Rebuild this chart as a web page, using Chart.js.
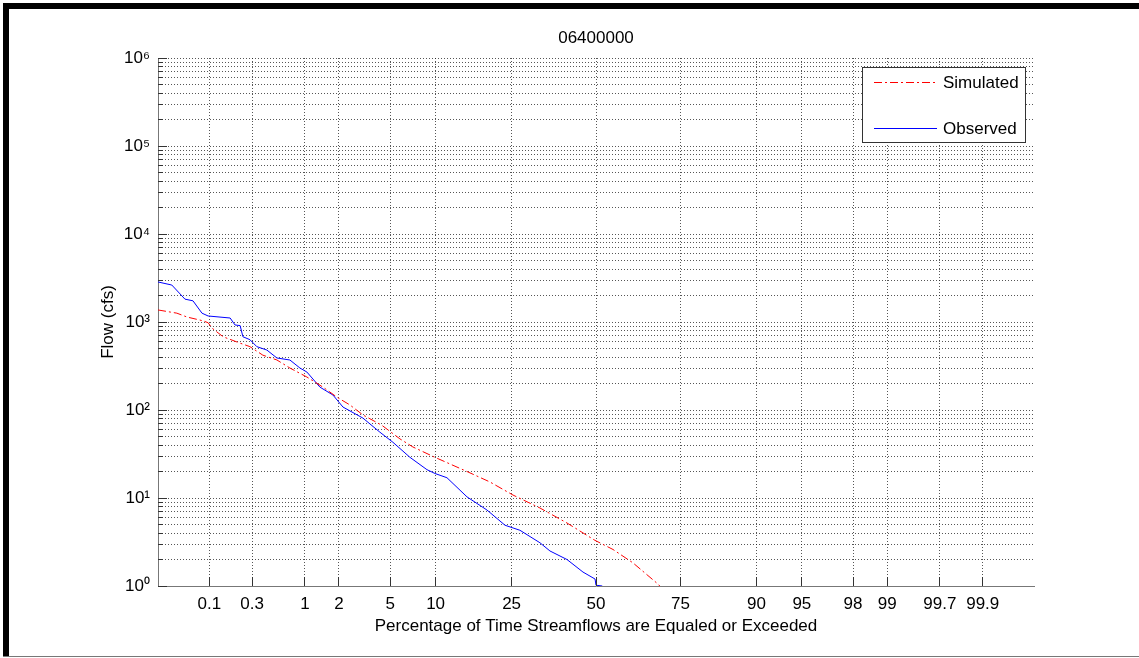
<!DOCTYPE html>
<html>
<head>
<meta charset="utf-8">
<title>06400000</title>
<script src="https://cdn.jsdelivr.net/npm/chart.js@4.4.1/dist/chart.umd.min.js"></script>
<style>
  html, body { margin: 0; padding: 0; background: #fff; }
  #wrap { position: relative; width: 1139px; height: 658px; overflow: hidden; background: #fff; }
  #c { position: absolute; left: 0; top: 0; }
  .bar { position: absolute; background: #000; }
</style>
</head>
<body>
<div id="wrap">
  <canvas id="c" width="1139" height="658"></canvas>
  <div class="bar" style="left:3px;top:3px;width:1136px;height:6px;"></div>
  <div class="bar" style="left:3px;top:3px;width:6px;height:654px;"></div>
  <div class="bar" style="left:3px;top:656px;width:1136px;height:1px;background:#777;"></div>
</div>
<script>
// ---------------- data ----------------
const chartTitle = '06400000';
const seriesLabels = ['Simulated', 'Observed'];
const xAxisTitle = 'Percentage of Time Streamflows are Equaled or Exceeded';
const yAxisTitle = 'Flow (cfs)';

const xTickPercents = [0.1, 0.3, 1, 2, 5, 10, 25, 50, 75, 90, 95, 98, 99, 99.7, 99.9];
const xTickLabels = ['0.1', '0.3', '1', '2', '5', '10', '25', '50', '75', '90', '95', '98', '99', '99.7', '99.9'];
const yTickValues = [1, 10, 100, 1000, 10000, 100000, 1000000];
const yTickLabels = ['10\u2070', '10\u00B9', '10\u00B2', '10\u00B3', '10\u2074', '10\u2075', '10\u2076'];

// percent of time equaled or exceeded
const simulatedPct = [0.0233, 0.0405, 0.054, 0.085, 0.097, 0.108, 0.144, 0.223, 0.284, 0.388, 0.539, 0.722,
  1.044, 1.456, 1.923, 2.465, 3.124, 4.354, 5.856, 7.174, 9.905, 15.13, 19.85, 25.36, 32.71, 40.83,
  49.68, 55.41, 61.63, 69.0, 70.0];
const simulatedFlow = [1370, 1260, 1140, 1030, 980, 850, 680, 575, 525, 420, 370, 300,
  237, 182, 140, 114, 88, 67, 47, 38, 29, 20, 15.2, 10.8, 7.7, 5.2,
  3.3, 2.6, 1.83, 1.05, 0.95];

const observedPct = [0.0233, 0.035, 0.051, 0.064, 0.082, 0.097, 0.173, 0.196, 0.223, 0.239, 0.284, 0.336,
  0.427, 0.539, 0.722, 0.899, 1.044, 1.369, 1.778, 2.159, 3.124, 4.209, 5.23, 6.851, 8.835, 9.905,
  11.68, 15.13, 19.18, 23.36, 27.16, 32.71, 35.65, 40.83, 45.86, 49.7, 50.0, 52.0, 52.3];
const observedFlow = [2850, 2630, 1820, 1740, 1260, 1170, 1110, 925, 910, 680, 630, 525,
  480, 390, 370, 300, 270, 182, 148, 108, 81, 56, 43, 29, 21, 19,
  17, 10.3, 7.3, 4.9, 4.3, 3.1, 2.5, 2.0, 1.44, 1.2, 1.02, 1.0, 0.9];

// ---------------- normal probability helpers ----------------
function probit(p) {
  const a = [-3.969683028665376e+01, 2.209460984245205e+02, -2.759285104469687e+02, 1.383577518672690e+02, -3.066479806614716e+01, 2.506628277459239e+00];
  const b = [-5.447609879822406e+01, 1.615858368580409e+02, -1.556989798598866e+02, 6.680131188771972e+01, -1.328068155288572e+01];
  const c = [-7.784894002430293e-03, -3.223964580411365e-01, -2.400758277161838e+00, -2.549732539343734e+00, 4.374664141464968e+00, 2.938163982698783e+00];
  const d = [7.784695709041462e-03, 3.224671290700398e-01, 2.445134137142996e+00, 3.754408661907416e+00];
  const pl = 0.02425, ph = 1 - pl;
  let q, r;
  if (p < pl) {
    q = Math.sqrt(-2 * Math.log(p));
    return (((((c[0]*q+c[1])*q+c[2])*q+c[3])*q+c[4])*q+c[5]) / ((((d[0]*q+d[1])*q+d[2])*q+d[3])*q+1);
  }
  if (p > ph) {
    q = Math.sqrt(-2 * Math.log(1 - p));
    return -(((((c[0]*q+c[1])*q+c[2])*q+c[3])*q+c[4])*q+c[5]) / ((((d[0]*q+d[1])*q+d[2])*q+d[3])*q+1);
  }
  q = p - 0.5; r = q * q;
  return (((((a[0]*r+a[1])*r+a[2])*r+a[3])*r+a[4])*r+a[5])*q / (((((b[0]*r+b[1])*r+b[2])*r+b[3])*r+b[4])*r+1);
}
function normCdf(z) {
  const t = 1 / (1 + 0.3275911 * Math.abs(z) / Math.SQRT2);
  const y = 1 - (((((1.061405429*t - 1.453152027)*t) + 1.421413741)*t - 0.284496736)*t + 0.254829592)*t * Math.exp(-z*z/2);
  return z >= 0 ? (1 + y) / 2 : (1 - y) / 2;
}

// ---------------- custom probability (normal) scale ----------------
class ProbabilityScale extends Chart.Scale {
  determineDataLimits() {
    this.min = this.options.min;
    this.max = this.options.max;
  }
  buildTicks() {
    return xTickPercents.map(v => ({ value: v }));
  }
  getLabelForValue(v) { return String(v); }
  _z(v) { return probit(v / 100); }
  getPixelForValue(v) {
    const z0 = this._z(this.min), z1 = this._z(this.max);
    return this.getPixelForDecimal((this._z(v) - z0) / (z1 - z0));
  }
  getPixelForTick(i) {
    const t = this.ticks;
    return (i < 0 || i >= t.length) ? null : this.getPixelForValue(t[i].value);
  }
  getValueForPixel(px) {
    const z0 = this._z(this.min), z1 = this._z(this.max);
    return normCdf(z0 + this.getDecimalForPixel(px) * (z1 - z0)) * 100;
  }
}
ProbabilityScale.id = 'probability';
ProbabilityScale.defaults = {};
Chart.register(ProbabilityScale);

// ---------------- plugins ----------------
function alignPx(v) { return Math.round(v + 0.5) - 0.5; }

const inwardTicks = {
  id: 'inwardTicks',
  afterDatasetsDraw(chart) {
    const { ctx, chartArea: ca, scales: { x, y } } = chart;
    ctx.save();
    ctx.strokeStyle = '#333';
    ctx.lineWidth = 1;
    ctx.beginPath();
    y.ticks.forEach(t => {
      const py = alignPx(y.getPixelForValue(t.value));
      const len = yTickValues.includes(t.value) ? 9 : 5;
      ctx.moveTo(ca.left, py); ctx.lineTo(ca.left + len, py);
    });
    x.ticks.forEach(t => {
      const px = alignPx(x.getPixelForValue(t.value));
      ctx.moveTo(px, ca.bottom); ctx.lineTo(px, ca.bottom - 9);
    });
    ctx.stroke();
    ctx.restore();
  }
};

const boxLegend = {
  id: 'boxLegend',
  afterDraw(chart) {
    const { ctx, chartArea: ca } = chart;
    const left = ca.right - 172, top = ca.top + 9, w = 164, h = 76;
    ctx.save();
    ctx.fillStyle = '#fff';
    ctx.fillRect(left, top, w, h);
    ctx.strokeStyle = '#333';
    ctx.lineWidth = 1;
    ctx.strokeRect(left + 0.5, top + 0.5, w - 1, h - 1);
    ctx.font = '17px "Liberation Sans", Arial, sans-serif';
    ctx.textBaseline = 'middle';
    ctx.textAlign = 'left';
    chart.data.datasets.forEach((ds, i) => {
      const yy = Math.round(top + 15 + i * 46) + 0.5;
      ctx.strokeStyle = ds.borderColor;
      ctx.lineWidth = ds.borderWidth;
      ctx.setLineDash(ds.borderDash || []);
      ctx.beginPath();
      ctx.moveTo(left + 12, yy);
      ctx.lineTo(left + 75, yy);
      ctx.stroke();
      ctx.setLineDash([]);
      ctx.fillStyle = '#000';
      ctx.fillText(ds.label, left + 81, yy + 1);
    });
    ctx.restore();
  }
};

// ---------------- chart ----------------
Chart.defaults.font.family = '"Liberation Sans", Arial, Helvetica, sans-serif';
Chart.defaults.font.size = 17;
Chart.defaults.color = '#000';

const gridColor = 'rgba(30,30,30,0.75)';

function yGridValues() {
  const out = [];
  for (let d = 0; d < yTickValues.length - 1; d++) {
    for (let m = 1; m <= 9; m++) out.push(m * yTickValues[d]);
  }
  out.push(yTickValues[yTickValues.length - 1]);
  return out;
}

new Chart(document.getElementById('c'), {
  type: 'line',
  data: {
    datasets: [
      {
        label: seriesLabels[0],
        data: simulatedPct.map((p, i) => ({ x: p, y: simulatedFlow[i] })),
        borderColor: '#ff0000',
        borderWidth: 1,
        borderDash: [8, 3, 2, 3],
        pointRadius: 0,
        fill: false,
        tension: 0
      },
      {
        label: seriesLabels[1],
        data: observedPct.map((p, i) => ({ x: p, y: observedFlow[i] })),
        borderColor: '#0000ff',
        borderWidth: 1,
        pointRadius: 0,
        fill: false,
        tension: 0
      }
    ]
  },
  options: {
    responsive: false,
    animation: false,
    events: [],
    layout: { padding: { left: 94, right: 105, top: 18, bottom: 18 } },
    plugins: {
      legend: { display: false },
      tooltip: { enabled: false },
      title: {
        display: true,
        text: chartTitle,
        fullSize: false,
        color: '#000',
        font: { size: 17, weight: 'normal' },
        padding: { top: 10, bottom: 9.6 }
      }
    },
    scales: {
      x: {
        type: 'probability',
        position: 'bottom',
        min: 0.0232629,
        max: 99.9767371,
        afterFit: (s) => { s.height = 54; },
        ticks: {
          autoSkip: false,
          maxRotation: 0,
          padding: 8,
          color: '#000',
          font: { size: 17 },
          callback: (v, i) => xTickLabels[i]
        },
        grid: { drawTicks: false, color: gridColor, lineWidth: 1 },
        border: { display: true, color: '#777', width: 1, dash: [1, 2] },
        title: {
          display: true,
          text: xAxisTitle,
          color: '#000',
          font: { size: 17 },
          padding: { top: 0, bottom: 3 }
        }
      },
      y: {
        type: 'logarithmic',
        position: 'left',
        min: 1,
        max: 1000000,
        afterBuildTicks: (s) => { s.ticks = yGridValues().map(v => ({ value: v })); },
        afterFit: (s) => { s.width = 64; },
        ticks: {
          autoSkip: false,
          padding: 8,
          color: '#000',
          font: { size: 17 },
          callback: (v) => {
            const i = yTickValues.indexOf(v);
            return i >= 0 ? yTickLabels[i] : '';
          }
        },
        grid: { drawTicks: false, color: gridColor, lineWidth: 1 },
        border: { display: true, color: '#777', width: 1, dash: [1, 2] },
        title: {
          display: true,
          text: yAxisTitle,
          color: '#000',
          font: { size: 17 },
          padding: { top: 4, bottom: 0 }
        }
      }
    }
  },
  plugins: [inwardTicks, boxLegend]
});
</script>
</body>
</html>
